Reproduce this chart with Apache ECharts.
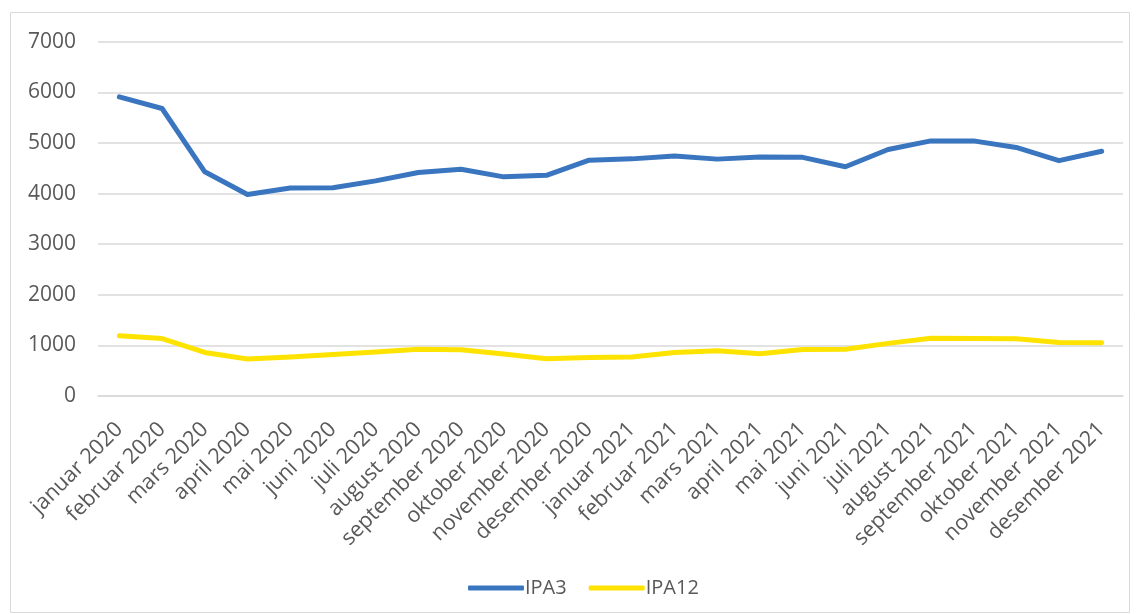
<!DOCTYPE html>
<html>
<head>
<meta charset="utf-8">
<script src="https://cdn.jsdelivr.net/npm/echarts@6/dist/echarts.min.js"></script>
<style>
html,body{margin:0;padding:0;background:#fff;}
#c{width:1138px;height:614px;}
</style>
</head>
<body>
<div id="c"></div>
<script>
const categories = ["januar 2020","februar 2020","mars 2020","april 2020","mai 2020","juni 2020","juli 2020","august 2020","september 2020","oktober 2020","november 2020","desember 2020","januar 2021","februar 2021","mars 2021","april 2021","mai 2021","juni 2021","juli 2021","august 2021","september 2021","oktober 2021","november 2021","desember 2021"];
const ipa3 = [5910,5680,4430,3980,4110,4115,4250,4415,4480,4330,4360,4660,4685,4740,4680,4720,4715,4530,4870,5040,5040,4910,4650,4835];
const ipa12 = [1190,1135,860,730,770,820,870,925,915,830,735,760,770,860,895,835,920,925,1040,1140,1135,1130,1055,1050];
const yTicks = {min:0, max:7000, interval:1000};

const chart = echarts.init(document.getElementById('c'), null, {renderer:'canvas'});
const font = "'Open Sans', sans-serif";
chart.setOption({
  backgroundColor:'#ffffff',
  animation:false,
  graphic:[{type:'rect', shape:{x:10.5,y:12.5,width:1119,height:600}, style:{fill:'none', stroke:'#d9d9d9', lineWidth:1}, silent:true, z:-1}],
  grid:{left:98, right:15, top:41.7, bottom:218, containLabel:false},
  legend:{
    data:['IPA3','IPA12'], top:573, left:463,
    icon:'roundRect', itemWidth:56, itemHeight:5, itemGap:22,
    textStyle:{color:'#595959', fontSize:20, fontFamily:font, padding:[0,0,0,-4]}
  },
  xAxis:{
    type:'category', data:categories, boundaryGap:true,
    axisLine:{show:true, lineStyle:{color:'#d9d9d9', width:1.5}},
    axisTick:{show:false},
    axisLabel:{rotate:45, interval:0, color:'#595959', fontSize:21.5, fontFamily:font, margin:30}
  },
  yAxis:{
    type:'value', min:yTicks.min, max:yTicks.max, interval:yTicks.interval,
    axisLine:{show:false}, axisTick:{show:false},
    splitLine:{lineStyle:{color:'#d9d9d9', width:1.5}},
    axisLabel:{color:'#595959', fontSize:21, fontFamily:font, margin:22, formatter:function(v){return String(v);}}
  },
  series:[
    {name:'IPA3', type:'line', data:ipa3, symbol:'none', color:'#3A75BF',
     lineStyle:{width:5, color:'#3A75BF', cap:'round', join:'round'}},
    {name:'IPA12', type:'line', data:ipa12, symbol:'none', color:'#FFE300',
     lineStyle:{width:5, color:'#FFE300', cap:'round', join:'round'}}
  ]
});
</script>
</body>
</html>
